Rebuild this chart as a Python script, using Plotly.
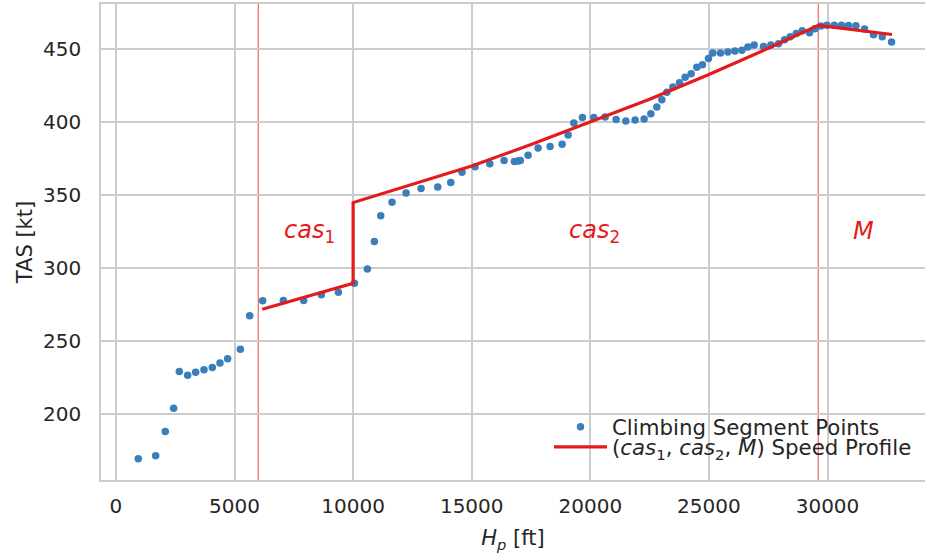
import plotly.graph_objects as go

# ---- data ----
hp_points = [941, 1674, 2080, 2432, 2671, 3023, 3360, 3711, 4063, 4386, 4709, 5244, 5637, 6186,
             7057, 7915, 8660, 9377, 10053, 10600, 10896, 11163, 11640, 12231, 12864, 13567,
             14115, 14590, 15141, 15760, 16364, 16800, 16950, 17050, 17377, 17798, 18304, 18811,
             19064, 19304, 19667, 20148, 20624, 21088, 21497, 21889, 22269, 22551, 22804, 23015,
             23226, 23479, 23758, 23998, 24251, 24491, 24728, 24981, 25166, 25487, 25799, 26095,
             26390, 26643, 26908, 27301, 27612, 27933, 28190, 28427, 28680, 28933, 29241, 29469,
             29722, 29975, 30283, 30591, 30886, 31197, 31560, 31940, 32307, 32700]
tas_points = [169.0, 171.0, 187.7, 203.6, 228.8, 226.2, 228.3, 230.1, 231.5, 234.7, 237.5, 244.0, 267.1, 277.4,
              277.6, 277.6, 281.5, 283.1, 289.3, 299.1, 318.0, 335.6, 345.0, 351.2, 354.3, 355.3,
              358.4, 365.5, 369.2, 371.4, 373.5, 372.8, 373.2, 373.5, 377.2, 382.2, 383.1, 384.7,
              391.1, 399.3, 403.0, 403.0, 403.4, 401.6, 400.7, 401.4, 402.1, 405.7, 410.3, 415.3,
              420.3, 424.0, 426.9, 430.6, 433.1, 437.5, 439.3, 443.6, 447.3, 447.3, 447.9, 448.6,
              449.1, 451.4, 452.7, 451.8, 452.7, 453.6, 456.4, 458.4, 460.7, 462.5, 461.2, 463.9,
              465.8, 466.4, 466.4, 466.4, 466.2, 466.0, 463.7, 459.8, 458.4, 454.8]

hp_profile = [6170, 10000, 10000, 12500, 15000, 17500, 20000, 22500, 25000, 27500, 29610, 32720]
tas_profile = [271.5, 289.3, 344.7, 357.0, 369.8, 384.5, 400.0, 415.5, 432.5, 450.5, 466.3, 460.0]

phase_bounds = [6000, 10000, 29610]
phase_labels = ["<i>cas</i><sub>1</sub>", "<i>cas</i><sub>2</sub>", "<i>M</i>"]
phase_label_x = [7000, 19000, 31000]
phase_label_y = [325, 325, 325]

x_ticks = [0, 5000, 10000, 15000, 20000, 25000, 30000]
y_ticks = [200, 250, 300, 350, 400, 450]

BLUE = "#3a7ebb"
RED = "#e41a1c"
GRID = "#cccccc"
TXT = "#262626"
FONT = "DejaVu Sans"

fig = go.Figure()
fig.add_trace(go.Scatter(
    x=hp_points, y=tas_points, mode="markers",
    marker=dict(color=BLUE, size=7.5, line=dict(width=0)),
    name="Climbing Segment Points", legend="legend"))
fig.add_trace(go.Scatter(
    x=hp_profile, y=tas_profile, mode="lines",
    line=dict(color=RED, width=3.2),
    name="(<i>cas</i><sub>1</sub>, <i>cas</i><sub>2</sub>, <i>M</i>) Speed Profile",
    legend="legend2"))

line_styles = {6000: ("rgba(228,26,28,0.75)", 1.1), 10000: ("#d9666c", 1.6), 29610: ("rgba(228,26,28,0.7)", 1.1)}
for xb in phase_bounds:
    c, w = line_styles[xb]
    fig.add_shape(type="line", xref="x", yref="paper", x0=xb, x1=xb, y0=0, y1=1,
                  line=dict(color=c, width=w), layer="between")

for t, xl, yl in zip(phase_labels, phase_label_x, phase_label_y):
    fig.add_annotation(x=xl, y=yl, text=t, showarrow=False, xanchor="left", yanchor="middle",
                       font=dict(family=FONT, size=24, color=RED))

fig.update_layout(
    width=925, height=556,
    margin=dict(l=101, r=0, t=4, b=76),
    paper_bgcolor="white", plot_bgcolor="white",
    font=dict(family=FONT, size=20, color=TXT),
    showlegend=True,
    legend=dict(x=(549 - 101) / 824, y=(480 - 427) / 476, xanchor="left", yanchor="middle",
                bgcolor="rgba(0,0,0,0)", font=dict(size=21.3, color=TXT), itemwidth=53,
                borderwidth=0),
    legend2=dict(x=(549 - 101) / 824, y=(480 - 447) / 476, xanchor="left", yanchor="middle",
                 bgcolor="rgba(0,0,0,0)", font=dict(size=21.3, color=TXT), itemwidth=53,
                 borderwidth=0),
)
fig.update_xaxes(
    range=[-630, 34110], tickvals=x_ticks, ticktext=[str(v) for v in x_ticks],
    showgrid=True, gridcolor=GRID, gridwidth=1.5, zeroline=False,
    showline=True, linecolor=GRID, linewidth=1.6, mirror=True,
    ticks="", ticklabelstandoff=7, tickfont=dict(size=20, color=TXT),
    title=dict(text="<i>H</i><sub><i>p</i></sub> [ft]", font=dict(size=21, color=TXT), standoff=14),
)
fig.update_yaxes(
    range=[154.4, 480.9], tickvals=y_ticks, ticktext=[str(v) for v in y_ticks],
    showgrid=True, gridcolor=GRID, gridwidth=1.5, zeroline=False,
    showline=True, linecolor=GRID, linewidth=1.6, mirror=False,
    ticks="", ticklabelstandoff=14, tickfont=dict(size=20, color=TXT),
    title=dict(text="TAS [kt]", font=dict(size=21, color=TXT), standoff=5),
)

fig.write_html("out.html")
